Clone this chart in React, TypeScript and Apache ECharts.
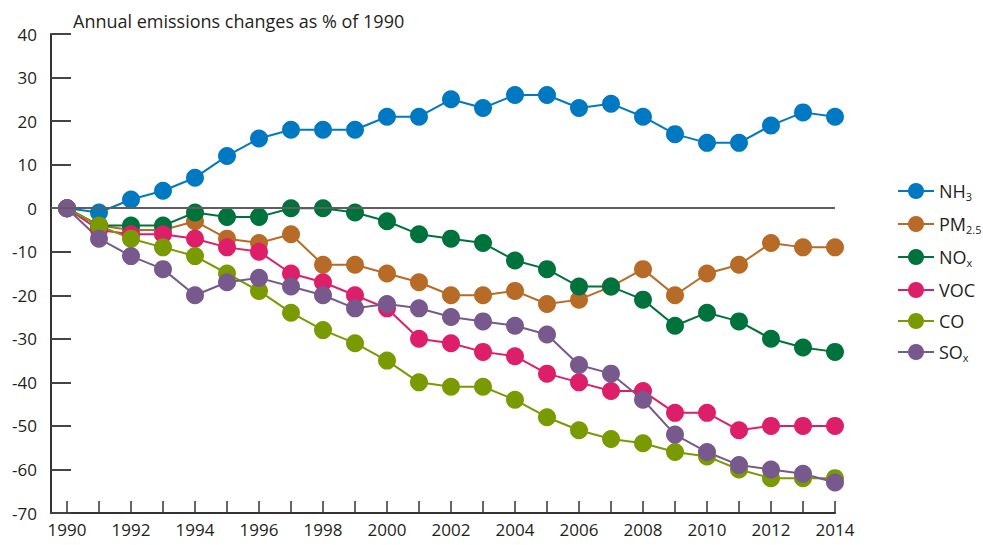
import React, { useEffect, useRef } from "react";
import * as echarts from "echarts";

const years = [1990,1991,1992,1993,1994,1995,1996,1997,1998,1999,2000,2001,2002,2003,2004,2005,2006,2007,2008,2009,2010,2011,2012,2013,2014];
const labelYears = [1990,1992,1994,1996,1998,2000,2002,2004,2006,2008,2010,2012,2014];

const nh3 = [0,-1,2,4,7,12,16,18,18,18,21,21,25,23,26,26,23,24,21,17,15,15,19,22,21];
const pm25 = [0,-4,-5,-5,-3,-7,-8,-6,-13,-13,-15,-17,-20,-20,-19,-22,-21,-18,-14,-20,-15,-13,-8,-9,-9];
const nox = [0,-4,-4,-4,-1,-2,-2,0,0,-1,-3,-6,-7,-8,-12,-14,-18,-18,-21,-27,-24,-26,-30,-32,-33];
const voc = [0,-5,-6,-6,-7,-9,-10,-15,-17,-20,-23,-30,-31,-33,-34,-38,-40,-42,-42,-47,-47,-51,-50,-50,-50];
const co = [0,-4,-7,-9,-11,-15,-19,-24,-28,-31,-35,-40,-41,-41,-44,-48,-51,-53,-54,-56,-57,-60,-62,-62,-62];
const sox = [0,-7,-11,-14,-20,-17,-16,-18,-20,-23,-22,-23,-25,-26,-27,-29,-36,-38,-44,-52,-56,-59,-60,-61,-63];

const seriesNames = ["NH3", "PM2.5", "NOx", "VOC", "CO", "SOx"];
const seriesValues = [nh3, pm25, nox, voc, co, sox];
const seriesColors = ["#0079c2", "#b86b26", "#00723c", "#dd1f69", "#7a9a02", "#77598d"];
const legendRich: Record<string, string> = {
  "NH3": "{m|NH}{s|3}",
  "PM2.5": "{m|PM}{s|2.5}",
  "NOx": "{m|NO}{s|x}",
  "VOC": "{m|VOC}",
  "CO": "{m|CO}",
  "SOx": "{m|SO}{s|x}",
};

const FONT = "Open Sans";
const TEXT = "#231f20";

export default function App() {
  const ref = useRef<HTMLDivElement>(null);
  useEffect(() => {
    if (!ref.current) return;
    const chart = echarts.init(ref.current, undefined, { renderer: "svg" });
    const series: any[] = [
      {
        name: "zero",
        type: "line",
        data: [],
        silent: true,
        markLine: {
          silent: true,
          symbol: "none",
          label: { show: false },
          lineStyle: { color: "#5e5e5e", width: 2, type: "solid" },
          data: [{ yAxis: 0 }],
        },
      },
    ];
    seriesNames.forEach((n, i) => {
      series.push({
        name: n,
        type: "line",
        data: years.map((y, j) => [y, seriesValues[i][j]]),
        symbol: "circle",
        symbolSize: 18,
        showAllSymbol: true,
        lineStyle: { color: seriesColors[i], width: 2 },
        itemStyle: { color: seriesColors[i], borderWidth: 0 },
        emphasis: { disabled: true },
      });
    });
    chart.setOption({
      animation: false,
      backgroundColor: "#ffffff",
      textStyle: { fontFamily: FONT },
      title: {
        text: "Annual emissions changes as % of 1990",
        left: 68,
        top: 7,
        textStyle: { fontFamily: FONT, fontSize: 18, fontWeight: "normal", color: TEXT },
      },
      legend: {
        data: seriesNames,
        orient: "vertical",
        left: 897,
        top: 182,
        padding: 0,
        itemWidth: 36,
        itemHeight: 20,
        itemGap: 13,
        formatter: (name: string) => legendRich[name],
        textStyle: {
          fontFamily: FONT,
          color: TEXT,
          fontSize: 18,
          rich: {
            m: { fontFamily: FONT, fontSize: 18, color: TEXT, lineHeight: 22 },
            s: { fontFamily: FONT, fontSize: 11, color: TEXT, lineHeight: 11, verticalAlign: "bottom" },
          },
        },
      },
      grid: { left: 51, right: 148, top: 34, bottom: 32, containLabel: false },
      xAxis: {
        type: "value",
        min: 1989.5,
        max: 2014,
        splitLine: { show: false },
        axisLine: { show: true, onZero: false, lineStyle: { color: "#333333", width: 2 } },
        axisTick: {
          show: true,
          inside: true,
          length: 12,
          customValues: years,
          lineStyle: { color: "#333333", width: 1.5 },
        },
        axisLabel: {
          customValues: labelYears,
          formatter: (v: number) => String(v),
          fontFamily: FONT,
          fontSize: 17,
          color: TEXT,
          margin: 8,
        },
      },
      yAxis: {
        type: "value",
        min: -70,
        max: 40,
        interval: 10,
        splitLine: { show: false },
        axisLine: { show: true, lineStyle: { color: "#333333", width: 2 } },
        axisTick: { show: true, inside: true, length: 20, lineStyle: { color: "#444444", width: 2 } },
        axisLabel: { fontFamily: FONT, fontSize: 17, color: TEXT, margin: 14 },
      },
      series,
    });
    return () => chart.dispose();
  }, []);
  return <div ref={ref} style={{ position: "absolute", left: 0, top: 0, width: 983, height: 545 }} />;
}
